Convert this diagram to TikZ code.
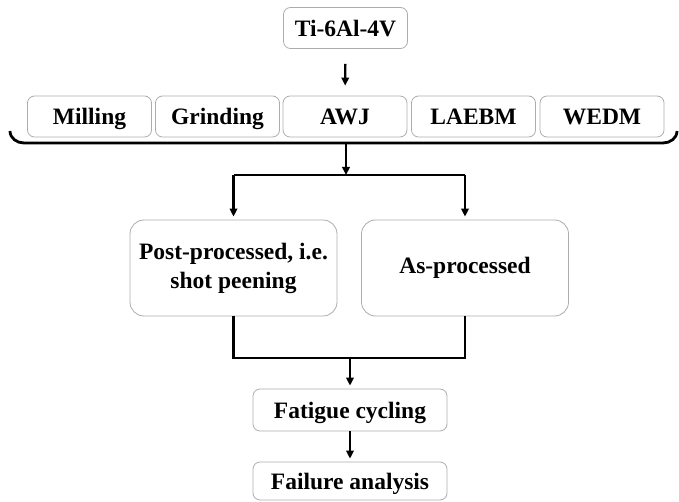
\documentclass[tikz,border=0pt]{standalone}
\usepackage{fontspec}
\setmainfont{Liberation Serif}
\usetikzlibrary{arrows.meta}
\begin{document}
\begin{tikzpicture}[x=1pt,y=-1pt,
  box/.style={draw=gray!65,line width=0.8pt,rounded corners=7pt,inner sep=0pt,align=center,
    font=\fontsize{23.5}{29}\selectfont\bfseries},
  rowbox/.style={box,minimum width=124pt,minimum height=41pt,text height=18pt,text depth=1pt},
  bigbox/.style={box,rounded corners=14pt,minimum width=207pt,minimum height=96pt},
  endbox/.style={box,minimum width=194pt,minimum height=42pt,text height=18pt,text depth=1pt},
  con/.style={line width=2.4pt},
  arr/.style={con,-{Triangle[length=8pt,width=7.5pt]},shorten >=3pt}]
\useasboundingbox (0,0) rectangle (679,502);
% material
\node[rowbox] (ti) at (345.5,28) {Ti-6Al-4V};
% processes
\node[rowbox] (mill) at (89.5,116.5) {Milling};
\node[rowbox] (grind) at (217.5,116.5) {Grinding};
\node[rowbox] (awj) at (345,116.5) {AWJ};
\node[rowbox] (laebm) at (473.5,116.5) {LAEBM};
\node[rowbox] (wedm) at (602,116.5) {WEDM};
% surface condition
\node[bigbox] (post) at (233.5,268) {Post-processed, i.e.\\shot peening};
\node[bigbox] (as) at (465,268) {As-processed};
% testing
\node[endbox] (fat) at (350,410) {Fatigue cycling};
\node[endbox,minimum height=38pt] (fail) at (350,481) {Failure analysis};
\draw[arr,shorten <=15pt,shorten >=10pt] (ti) -- (awj);
% brace under the process row
\coordinate (bl) at (10,131);
\coordinate (br) at (677,131);
\coordinate (bm) at (346,143);
\draw[con,line width=2.8pt] (bl) to[out=-90,in=180] (24,143) -- (663,143) to[out=0,in=-90] (br);
\coordinate (split) at (346,175);
\draw[arr,shorten >=0pt] (bm) -- (split);
\draw[con] (post.north |- split) -- (as.north |- split);
\draw[arr] (post.north |- split) -- (post.north);
\draw[arr] (as.north |- split) -- (as.north);
\coordinate (join) at (350,358);
\draw[con] (post.south) |- (join) -| (as.south);
\draw[arr] (join) -- (fat);
\draw[arr] (fat) -- (fail);
\end{tikzpicture}
\end{document}
